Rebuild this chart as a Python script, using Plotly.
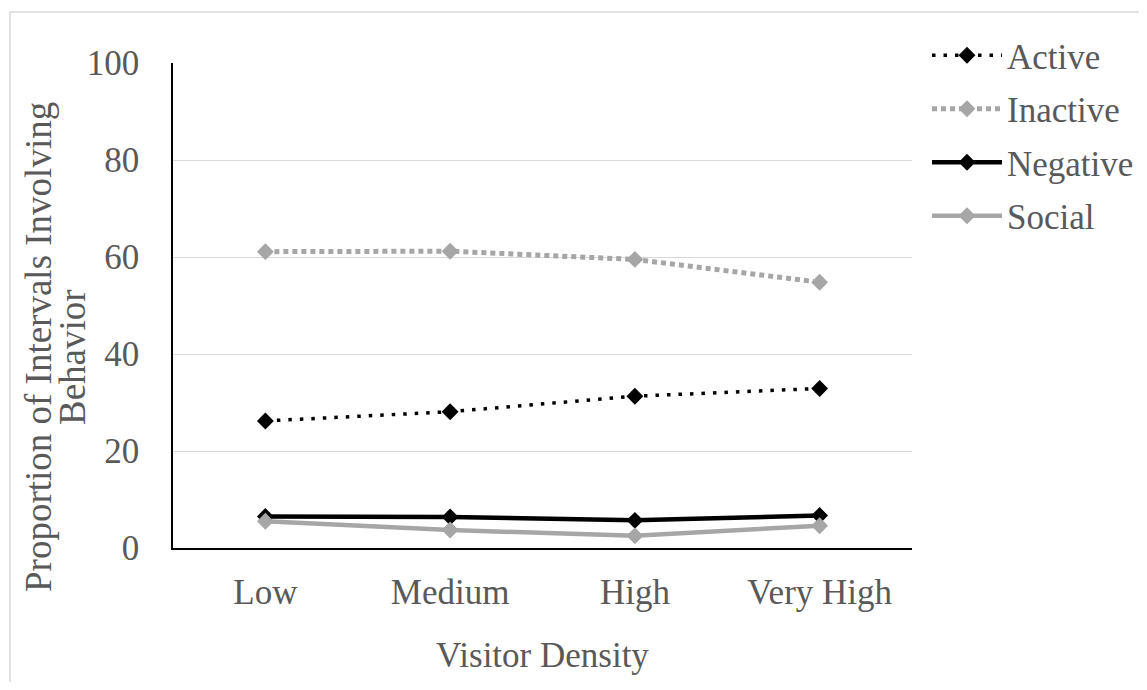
import plotly.graph_objects as go

categories = ["Low", "Medium", "High", "Very High"]
active = [26.2, 28.1, 31.3, 32.9]
inactive = [61.1, 61.2, 59.5, 54.8]
negative = [6.5, 6.4, 5.7, 6.7]
social = [5.5, 3.7, 2.5, 4.6]
y_ticks = [0, 20, 40, 60, 80, 100]

FONT = "Liberation Serif"
TXT = "#595959"
GRAY = "#a6a6a6"
FS = 35

# page body has an 8px margin; figure coordinates = screen - 8
W, H = 1131, 674
L, R, T, B = 165, 904, 55, 540
PW, PH = R - L, B - T

def px(x):
    return (x - L) / PW

def py(y):
    return (B - y) / PH

fig = go.Figure()
series = [
    ("Active", active, "black", 3.5, "3.5px,8px", 13),
    ("Inactive", inactive, GRAY, 5, "5px,4px", 13),
    ("Negative", negative, "black", 4.5, "solid", 13),
    ("Social", social, GRAY, 4.5, "solid", 13),
]
for i, (name, vals, col, w, dash, ms) in enumerate(series):
    fig.add_trace(go.Scatter(
        x=categories, y=vals, name=name, mode="lines+markers",
        line=dict(color=col, width=w, dash=dash),
        marker=dict(symbol="diamond", size=ms, color=col),
        legendgroup=f"g{i}",
    ))

fig.update_layout(
    width=W, height=H,
    margin=dict(l=L, r=W - R, t=T, b=H - B, autoexpand=False),
    paper_bgcolor="white", plot_bgcolor="white",
    font=dict(family=FONT, size=FS, color=TXT),
    showlegend=True,
    legend=dict(x=px(919), y=py(18), xanchor="left", yanchor="top",
                font=dict(family=FONT, size=FS, color=TXT),
                itemwidth=70,
                tracegroupgap=5, bgcolor="rgba(0,0,0,0)"),
    xaxis=dict(
        type="category", range=[-0.5, 3.5], automargin=False,
        showline=True, linecolor="black", linewidth=1.5,
        showgrid=False, ticks="", ticklabelstandoff=12,
        title=dict(text="Visitor Density", standoff=32,
                   font=dict(family=FONT, size=FS, color=TXT)),
        tickfont=dict(family=FONT, size=FS, color=TXT),
    ),
    yaxis=dict(
        range=[0, 100], tickvals=y_ticks, automargin=False,
        showline=True, linecolor="black", linewidth=1.5,
        showgrid=True, gridcolor="#d9d9d9", gridwidth=1.3,
        zeroline=False, ticks="", ticklabelstandoff=25,
        tickfont=dict(family=FONT, size=FS, color=TXT),
    ),
    annotations=[
        dict(text="Proportion of Intervals Involving", textangle=-90,
             xref="paper", yref="paper", x=px(31), y=py(339),
             xanchor="center", yanchor="middle", showarrow=False,
             font=dict(family=FONT, size=37, color=TXT)),
        dict(text="Behavior", textangle=-90,
             xref="paper", yref="paper", x=px(64), y=py(349),
             xanchor="center", yanchor="middle", showarrow=False,
             font=dict(family=FONT, size=37, color=TXT)),
    ],
    shapes=[dict(type="rect", xref="paper", yref="paper",
                 x0=px(2), x1=px(1400), y0=py(900), y1=py(4),
                 line=dict(color="#d9d9d9", width=1.5), layer="below")],
)

fig.write_html("out.html")
